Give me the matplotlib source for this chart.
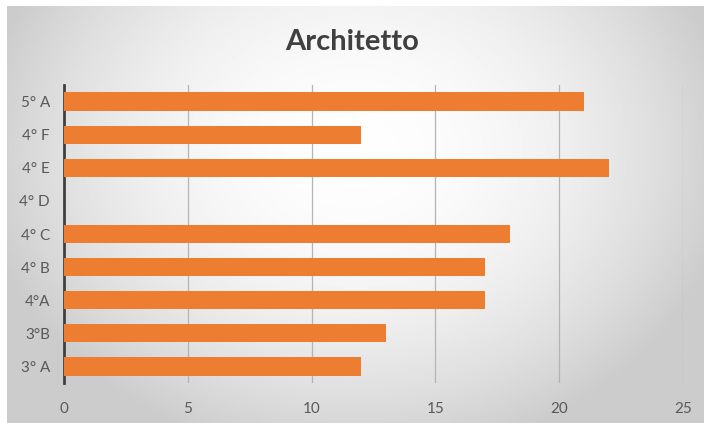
import numpy as np
import matplotlib
matplotlib.use("Agg")
import matplotlib.pyplot as plt

plt.rcParams['font.family'] = ['Lato', 'DejaVu Sans']

# class groups, bottom to top
classi = ['3° A', '3°B', '4°A', '4° B', '4° C', '4° D', '4° E', '4° F', '5° A']
valori = [12, 13, 17, 17, 18, 0, 22, 12, 21]
ticks_x = [0, 5, 10, 15, 20, 25]

fig = plt.figure(figsize=(7.04, 4.23), dpi=100, facecolor='white')

# radial gradient panel, light near the top centre, grey towards the edges
bg = fig.add_axes([7 / 704, 0, 1 - 7 / 704, 1 - 6 / 423], zorder=-10)
yy, xx = np.mgrid[0:1:300j, 0:1:500j]
r = np.sqrt(((xx - 0.5) / 0.55) ** 2 + ((yy - 0.35) / 0.75) ** 2)
shade = np.clip(0.995 - 0.2 * r ** 2, 0.8, 1)
bg.imshow(shade, cmap='gray', vmin=0, vmax=1, aspect='auto', extent=[0, 1, 1, 0])
bg.set_axis_off()

ax = fig.add_axes([64 / 704, 1 - 383 / 423, (683 - 64) / 704, (383 - 85) / 423])
ax.patch.set_alpha(0)

ypos = np.arange(len(classi))
ax.barh(ypos, valori, height=0.55, color='#ED7D31', zorder=3)

ax.set_xlim(0, 25)
ax.set_ylim(-0.5, len(classi) - 0.5)
ax.set_xticks(ticks_x)
ax.set_yticks(ypos)
ax.set_yticklabels(classi)
ax.grid(axis='x', color='#b4b4b4', linewidth=0.9, zorder=0)
ax.tick_params(axis='both', length=0, labelsize=11, labelcolor='#595959')
ax.tick_params(axis='x', pad=14)
ax.tick_params(axis='y', pad=10)

for side in ['top', 'right', 'bottom']:
    ax.spines[side].set_visible(False)
ax.spines['left'].set_color('#404040')
ax.spines['left'].set_linewidth(2)

fig.text(0.5, 1 - 42 / 423, 'Architetto', ha='center', va='center',
         fontsize=21, fontweight='bold', color='#404040')

fig.savefig('out.png', dpi=100)
